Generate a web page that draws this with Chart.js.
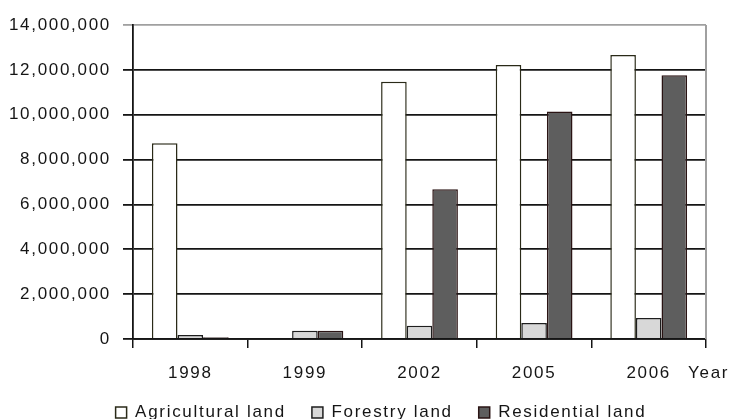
<!DOCTYPE html>
<html>
<head>
<meta charset="utf-8">
<script src="https://cdn.jsdelivr.net/npm/chart.js@4/dist/chart.umd.min.js"></script>
<style>
  html, body { margin: 0; padding: 0; background: #ffffff; }
  #wrap { width: 729px; height: 419px; position: relative; }
</style>
</head>
<body>
<div id="wrap"><canvas id="c"></canvas></div>
<script>
// Land area by use, per survey year
const years = ['1998', '1999', '2002', '2005', '2006'];
const agricultural = [8730000, null, 11470000, 12220000, 12660000];
const forestry = [180000, 370000, 590000, 710000, 940000];
const residential = [80000, 370000, 6680000, 10140000, 11760000];
const yTicks = [0, 2000000, 4000000, 6000000, 8000000, 10000000, 12000000, 14000000];

const FONT = { family: '"Liberation Sans", Arial, sans-serif', size: 17 };
const SPACING = '1.7px';
const INK = '#151515';

// Wide glyph spacing for all canvas text
const spacingPlugin = {
  id: 'spacing',
  beforeUpdate(chart) { chart.ctx.letterSpacing = SPACING; },
  beforeDraw(chart) { chart.ctx.letterSpacing = SPACING; }
};

// Legend row sits a little right of the canvas centre
const legendShift = {
  id: 'legendShift',
  afterLayout(chart) {
    if (chart.legend) chart.legend.left = 56;
  }
};

// Grey frame on the right side of the plot area and the "Year" caption
const framePlugin = {
  id: 'frame',
  afterDatasetsDraw(chart) {
    const { ctx, chartArea } = chart;
    ctx.save();
    ctx.strokeStyle = '#a0a0a0';
    ctx.lineWidth = 2;
    ctx.beginPath();
    ctx.moveTo(chartArea.right, chartArea.top);
    ctx.lineTo(chartArea.right, chartArea.bottom);
    ctx.stroke();
    ctx.restore();
  },
  afterDraw(chart) {
    const { ctx, chartArea } = chart;
    ctx.save();
    ctx.letterSpacing = SPACING;
    ctx.font = FONT.size + 'px ' + FONT.family;
    ctx.fillStyle = INK;
    ctx.textAlign = 'left';
    ctx.textBaseline = 'middle';
    ctx.fillText('Year', chartArea.right - 18, chartArea.bottom + 34);
    ctx.restore();
  }
};

new Chart(document.getElementById('c'), {
  type: 'bar',
  data: {
    labels: years,
    datasets: [
      { label: 'Agricultural land', data: agricultural, backgroundColor: '#ffffff', borderColor: '#2a2a18', borderWidth: 1.5 },
      { label: 'Forestry land', data: forestry, backgroundColor: '#d8d8d8', borderColor: '#1e1e1e', borderWidth: 1.5 },
      { label: 'Residential land', data: residential, backgroundColor: '#5e5e5e', borderColor: '#2a1414', borderWidth: 1.5 }
    ]
  },
  plugins: [spacingPlugin, legendShift, framePlugin],
  options: {
    responsive: true,
    maintainAspectRatio: false,
    animation: false,
    datasets: { bar: { categoryPercentage: 0.67, barPercentage: 1.0 } },
    layout: { padding: { top: 25, right: 23, left: 0, bottom: -12 } },
    plugins: {
      tooltip: { enabled: false },
      legend: {
        position: 'bottom',
        labels: {
          font: FONT,
          color: INK,
          boxWidth: 11,
          boxHeight: 11,
          padding: 26
        }
      }
    },
    scales: {
      x: {
        afterFit(scale) { scale.height = 39; },
        grid: { offset: true, drawOnChartArea: false, drawTicks: true, tickLength: 9, color: INK, lineWidth: 1.5 },
        border: { color: INK, width: 1.8 },
        ticks: { font: FONT, color: INK, padding: 15 }
      },
      y: {
        min: 0,
        max: 14000000,
        afterBuildTicks(scale) { scale.ticks = yTicks.map(v => ({ value: v })); },
        afterFit(scale) { scale.width = 133; },
        grid: {
          color: ctx => (ctx.tick && ctx.tick.value === 14000000 ? '#a0a0a0' : INK),
          lineWidth: 1.8,
          tickLength: 10
        },
        border: { color: INK, width: 1.8 },
        ticks: {
          font: FONT,
          color: INK,
          padding: 12,
          callback: v => Number(v).toLocaleString('en-US')
        }
      }
    }
  }
});
</script>
</body>
</html>
